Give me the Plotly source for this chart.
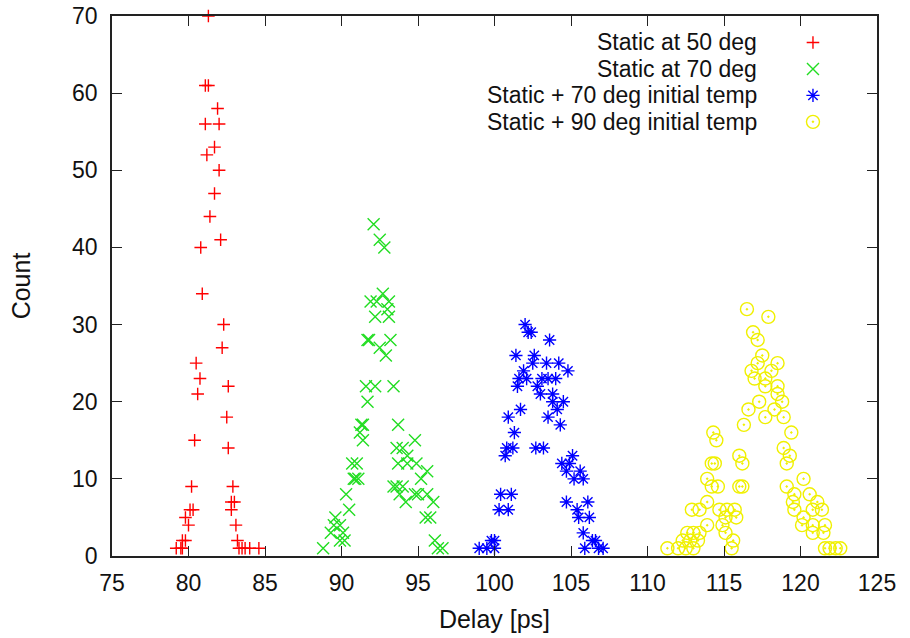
import plotly.graph_objects as go

# ---------------- data ----------------
series_names = ["Static at 50 deg", "Static at 70 deg",
                "Static + 70 deg initial temp", "Static + 90 deg initial temp"]

red_x = [81.3, 81.1, 81.3, 81.9, 81.1, 82.0, 81.7, 81.2, 82.0, 81.7, 81.4, 82.1, 80.8,
         80.9, 82.3, 82.2, 80.5, 80.75, 82.6, 80.6, 82.5, 80.4, 82.6, 80.2, 82.9, 82.8,
         83.0, 80.3, 80.1, 82.8, 79.8, 80.0, 83.1, 79.6, 79.8, 83.2, 79.2, 79.5, 79.6,
         83.3, 83.5, 83.7, 84.0, 84.6]
red_y = [70, 61, 61, 58, 56, 56, 53, 52, 50, 47, 44, 41, 40,
         34, 30, 27, 25, 23, 22, 21, 18, 15, 14, 9, 9, 7,
         7, 6, 6, 6, 5, 4, 4, 2, 2, 2, 1, 1, 1,
         1, 1, 1, 1, 1]

green_x = [92.1, 92.5, 92.8, 92.7, 91.9, 92.3, 93.1, 93.0, 93.1, 92.2,
           91.7, 91.8, 93.2, 92.5, 92.9, 91.6, 92.2, 93.4, 91.7, 91.3,
           91.4, 91.2, 91.4, 93.7, 94.8, 93.6, 94.0, 94.3, 93.7, 90.7,
           94.3, 91.1, 90.8, 94.9, 95.6, 95.2, 93.4, 93.6, 94.0, 93.8,
           94.8, 95.0, 94.2, 95.6, 96.0, 90.3, 90.5, 95.5, 95.8, 89.6,
           89.9, 89.5, 89.3, 90.1, 89.9, 90.2, 96.1, 96.3, 96.6, 88.8,
           91.0, 90.9]
green_y = [43, 41, 40, 34, 33, 33, 33, 32, 31, 31,
           28, 28, 28, 27, 26, 22, 22, 22, 20, 17,
           17, 16, 15, 17, 15, 14, 14, 13, 12, 12,
           12, 10, 10, 12, 11, 10, 9, 9, 9, 8,
           8, 8, 7, 8, 7, 8, 6, 5, 5, 5,
           4, 4, 3, 3, 2, 2, 2, 1, 1, 1,
           12, 10]

blue_x = [102.0, 102.2, 102.4, 103.6, 101.4, 102.6, 103.4, 104.2, 104.8, 101.9,
          102.5, 101.6, 102.1, 103.1, 104.0, 103.5, 101.5, 102.8, 103.0, 103.8,
          104.5, 103.8, 104.1, 101.7, 100.9, 103.5, 104.3, 101.3, 100.8, 101.2,
          102.7, 103.2, 100.7, 105.1, 104.4, 104.9, 105.6, 104.7, 105.2, 105.8,
          100.4, 101.1, 100.3, 100.9, 104.7, 106.1, 105.4, 106.2, 105.5, 105.8,
          106.4, 106.6, 99.0, 99.8, 100.0, 100.0, 99.5, 105.9, 107.1, 106.8]
blue_y = [30, 29, 29, 28, 26, 26, 25, 25, 24, 24,
          25, 23, 23, 23, 23, 23, 22, 22, 21, 21,
          20, 20, 19, 19, 18, 18, 17, 16, 14, 14,
          14, 14, 13, 13, 12, 12, 11, 11, 10, 10,
          8, 8, 6, 6, 7, 7, 6, 5, 5, 3,
          2, 2, 1, 2, 2, 1, 1, 1, 1, 1]

yellow_x = [116.5, 117.9, 116.9, 117.2, 117.5, 118.5, 117.2, 116.8, 118.1, 117.7,
            117.0, 118.5, 117.7, 118.5, 117.3, 118.8, 116.6, 118.3, 118.9, 117.7,
            116.3, 114.3, 114.5, 119.4, 116.0, 118.9, 119.3, 116.2, 119.1, 114.2,
            114.4, 113.9, 114.2, 114.6, 116.0, 116.2, 119.1, 120.2, 119.6, 120.6,
            119.5, 121.1, 113.9, 119.6, 120.8, 121.4, 112.9, 113.4, 114.7, 115.2,
            115.7, 115.1, 115.8, 120.2, 113.9, 114.9, 120.8, 121.6, 120.1, 113.4,
            113.0, 112.6, 115.1, 120.8, 121.5, 112.3, 112.8, 113.3, 115.6, 111.3,
            112.0, 112.5, 113.0, 115.5, 121.6, 121.9, 122.3, 122.6]
yellow_y = [32, 31, 29, 28, 26, 25, 25, 24, 24, 23,
            23, 22, 22, 21, 20, 20, 19, 19, 18, 18,
            17, 16, 15, 16, 13, 14, 13, 12, 12, 12,
            12, 10, 9, 9, 9, 9, 9, 10, 8, 8,
            7, 7, 7, 6, 6, 6, 6, 6, 6, 6,
            6, 5, 5, 5, 4, 4, 4, 4, 4, 3,
            3, 3, 3, 3, 3, 2, 2, 2, 2, 1,
            1, 1, 1, 1, 1, 1, 1, 1]

x_ticks = [75, 80, 85, 90, 95, 100, 105, 110, 115, 120, 125]
y_ticks = [0, 10, 20, 30, 40, 50, 60, 70]

# ---------------- styles ----------------
colors = ["#ff0000", "#22dd22", "#0000ff", "#f0f000"]
symbols = ["cross-thin-open", "x-thin-open", "asterisk-open", "circle-open-dot"]
sizes = [9, 12, 11, 13]
FONT = "Liberation Sans, Arial, sans-serif"

fig = go.Figure()
data = [(red_x, red_y), (green_x, green_y), (blue_x, blue_y), (yellow_x, yellow_y)]
for (xs, ys), name, c, s, sz in zip(data, series_names, colors, symbols, sizes):
    fig.add_trace(go.Scatter(
        x=xs, y=ys, mode="markers", name=name, showlegend=False,
        marker=dict(symbol=s, size=sz, color=c, line=dict(color=c, width=1.4)),
        cliponaxis=False))

# gnuplot-style key: right-aligned text, symbol on the right
key_text_x = 0.8444
key_sym_x = 0.9163
key_rows = [0.951, 0.902, 0.853, 0.804]
for name, c, s, sz, ky in zip(series_names, colors, symbols, sizes, key_rows):
    fig.add_trace(go.Scatter(
        x=[key_sym_x], y=[ky], xaxis="x2", yaxis="y2", mode="markers",
        showlegend=False, hoverinfo="skip",
        marker=dict(symbol=s, size=sz, color=c, line=dict(color=c, width=1.4)),
        cliponaxis=False))
    fig.add_annotation(xref="paper", yref="paper", x=key_text_x, y=ky,
                       text=name, showarrow=False, xanchor="right", yanchor="middle",
                       borderpad=0,
                       font=dict(family=FONT, size=23, color="#111"))

axis_common = dict(showline=True, linecolor="#222", linewidth=1.5, mirror="allticks",
                   ticks="inside", ticklen=10, tickwidth=1.2, tickcolor="#222",
                   showgrid=False, zeroline=False, automargin=False,
                   tickfont=dict(family=FONT, size=23, color="#111"))

fig.update_layout(
    width=910, height=638,
    margin=dict(l=112, r=33, t=16, b=82),
    paper_bgcolor="white", plot_bgcolor="white",
    xaxis=dict(range=[75, 125], tickvals=x_ticks, ticklabelstandoff=6,
               title=dict(text="Delay [ps]", font=dict(family=FONT, size=25, color="#111"),
                          standoff=15),
               **axis_common),
    yaxis=dict(range=[0, 70], tickvals=y_ticks, ticklabelstandoff=8,
               title=dict(text="Count", font=dict(family=FONT, size=25, color="#111"),
                          standoff=34),
               **axis_common),
    xaxis2=dict(range=[0, 1], overlaying="x", visible=False, anchor="y2"),
    yaxis2=dict(range=[0, 1], overlaying="y", visible=False, anchor="x2"),
)

fig.write_html("out.html")
